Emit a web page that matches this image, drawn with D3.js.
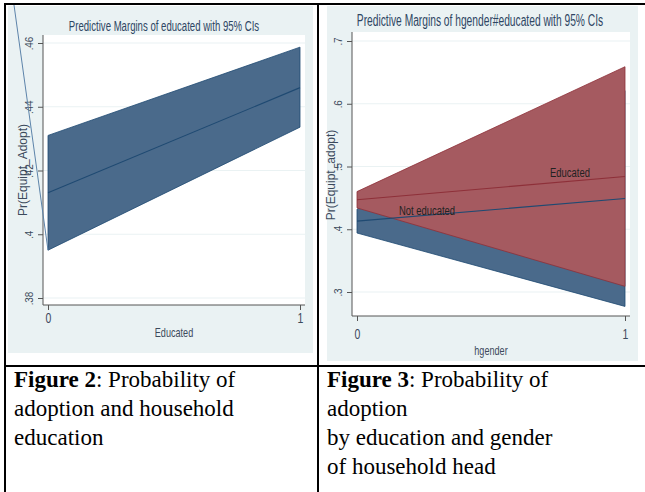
<!DOCTYPE html>
<html>
<head>
<meta charset="utf-8">
<script src="https://cdn.jsdelivr.net/npm/d3@7"></script>
<style>
  body { margin: 0; background: #fff; }
  svg { display: block; }
</style>
</head>
<body>
<div id="chart"></div>
<script>
// Figure 2: margins by education (x = educated 0/1)
const eduLevels = [0, 1];
const fig2Margin = [0.413, 0.446];
const fig2Lower = [0.395, 0.4336];
const fig2Upper = [0.431, 0.4587];
const fig2YTicks = [0.38, 0.40, 0.42, 0.44, 0.46];
const fig2YLabels = ['.38', '.4', '.42', '.44', '.46'];

// Figure 3: margins by hgender for each education group
const genderLevels = [0, 1];
const groups = ['Not educated', 'Educated'];
const notEduMargin = [0.413, 0.449];
const notEduLower = [0.394, 0.277];
const notEduUpper = [0.432, 0.621];
const eduMargin = [0.447, 0.484];
const eduLower = [0.434, 0.309];
const eduUpper = [0.460, 0.659];
const fig3YTicks = [0.3, 0.4, 0.5, 0.6, 0.7];
const fig3YLabels = ['.3', '.4', '.5', '.6', '.7'];

const captions = [
  { bold: 'Figure 2', lines: [': Probability of', 'adoption and household', 'education'] },
  { bold: 'Figure 3', lines: [': Probability of', 'adoption', 'by education and gender', 'of household head'] }
];

const W = 645, H = 492;
const stataFont = '"Liberation Sans", Arial, sans-serif';
const squeeze = 0.75; // stata fonts are condensed
const bg = '#eaf2f3';
const navyFill = '#4a6a8b', navyLine = '#1f4a72';
const redFill = '#a55a60', redLine = '#8e3039';
const textCol = '#3c4a5c';

const svg = d3.select('#chart').append('svg')
  .attr('width', W).attr('height', H);

// condensed text helper
function sText(g, x, y, str, size, fill, sx) {
  return g.append('text')
    .attr('transform', `translate(${x},${y}) scale(${sx || squeeze},1)`)
    .attr('text-anchor', 'middle')
    .attr('font-family', stataFont).attr('font-size', size).attr('fill', fill)
    .text(str);
}

// draws one Stata-like panel, returns scales
function panel(opt) {
  const g = svg.append('g');
  g.append('rect')
    .attr('x', opt.bg[0]).attr('y', opt.bg[1])
    .attr('width', opt.bg[2]).attr('height', opt.bg[3])
    .attr('fill', bg);
  g.append('rect')
    .attr('x', opt.plot[0]).attr('y', opt.plot[1])
    .attr('width', opt.plot[2] - opt.plot[0]).attr('height', opt.plot[3] - opt.plot[1])
    .attr('fill', '#fff');

  const x = d3.scaleLinear().domain([0, 1]).range(opt.xr);
  const y = d3.scaleLinear().domain(opt.yd).range(opt.yr);

  // grid
  g.append('g').selectAll('line').data(opt.yTicks).enter().append('line')
    .attr('x1', opt.plot[0]).attr('x2', opt.plot[2])
    .attr('y1', d => y(d)).attr('y2', d => y(d))
    .attr('stroke', bg).attr('stroke-width', 1.2);

  // y axis
  const yAxis = g.append('g')
    .attr('transform', `translate(${opt.plot[0]},0)`)
    .call(d3.axisLeft(y).tickValues(opt.yTicks).tickFormat((d, i) => opt.yLabels[i]).tickSize(5).tickSizeOuter(0));
  yAxis.select('.domain').attr('d', `M0,${opt.plot[1]}V${opt.plot[3]}`).attr('stroke', '#555');
  yAxis.selectAll('.tick line').attr('stroke', '#555');
  yAxis.selectAll('.tick text')
    .attr('x', 0).attr('dy', 0)
    .attr('transform', `translate(-10,0) rotate(-90) scale(0.9,1)`)
    .attr('text-anchor', 'middle')
    .attr('font-family', stataFont).attr('font-size', 11).attr('fill', textCol);

  // x axis
  const xAxis = g.append('g')
    .attr('transform', `translate(0,${opt.plot[3]})`)
    .call(d3.axisBottom(x).tickValues([0, 1]).tickFormat(d3.format('d')).tickSize(5).tickSizeOuter(0));
  xAxis.select('.domain').attr('d', `M${opt.plot[0]},0H${opt.plot[2]}`).attr('stroke', '#555');
  xAxis.selectAll('.tick line').attr('stroke', '#555');
  xAxis.selectAll('.tick text')
    .attr('y', opt.xLabelY)
    .attr('transform', `scale(${squeeze},1)`)
    .attr('font-family', stataFont).attr('font-size', 14).attr('fill', textCol);

  sText(g, opt.title[0], opt.title[1], opt.titleText, opt.titleSize, '#2e4663', 0.64);
  g.append('text')
    .attr('transform', `translate(${opt.ytitle[0]},${opt.ytitle[1]}) rotate(-90)`)
    .attr('text-anchor', 'middle')
    .attr('font-family', stataFont).attr('font-size', 12).attr('fill', textCol)
    .text(opt.ytitleText);
  sText(g, opt.xtitle[0], opt.xtitle[1], opt.xtitleText, 13, textCol, 0.7);
  return { g, x, y };
}

function band(g, x, y, xs, lo, hi, fill, stroke) {
  const rows = xs.map((v, i) => ({ x: v, lo: lo[i], hi: hi[i] }));
  g.append('path').datum(rows)
    .attr('d', d3.area().x(d => x(d.x)).y0(d => y(d.lo)).y1(d => y(d.hi)))
    .attr('fill', fill).attr('stroke', stroke).attr('stroke-width', 0.8);
}
function line(g, x, y, xs, vals, stroke) {
  const rows = xs.map((v, i) => ({ x: v, v: vals[i] }));
  g.append('path').datum(rows)
    .attr('d', d3.line().x(d => x(d.x)).y(d => y(d.v)))
    .attr('fill', 'none').attr('stroke', stroke).attr('stroke-width', 1.1);
}

// ---- Figure 2 ----
const p2 = panel({
  bg: [8, 6, 305, 347], plot: [43, 35, 305, 305],
  xr: [48, 300], yd: [0.38, 0.46], yr: [298, 43],
  yTicks: fig2YTicks, yLabels: fig2YLabels, xLabelY: 8,
  title: [164, 31], titleSize: 15, titleText: 'Predictive Margins of educated with 95%  CIs',
  ytitle: [27, 170], ytitleText: 'Pr(Equipt_Adopt)',
  xtitle: [174, 337], xtitleText: 'Educated'
});
band(p2.g, p2.x, p2.y, eduLevels, fig2Lower, fig2Upper, navyFill, navyLine);
line(p2.g, p2.x, p2.y, eduLevels, fig2Margin, navyLine);
// stray line in the source image running into the band corner
p2.g.append('line')
  .attr('x1', 14).attr('y1', 5)
  .attr('x2', p2.x(0)).attr('y2', p2.y(fig2Lower[0]))
  .attr('stroke', '#5d84aa').attr('stroke-width', 1);

// ---- Figure 3 ----
const p3 = panel({
  bg: [327, 6, 311, 355], plot: [352, 32, 630, 316],
  xr: [357, 625], yd: [0.3, 0.7], yr: [292, 41],
  yTicks: fig3YTicks, yLabels: fig3YLabels, xLabelY: 13,
  title: [480, 26], titleSize: 16, titleText: 'Predictive Margins of hgender#educated with 95% CIs',
  ytitle: [335, 175], ytitleText: 'Pr(Equipt_adopt)',
  xtitle: [491, 355], xtitleText: 'hgender'
});
band(p3.g, p3.x, p3.y, genderLevels, notEduLower, notEduUpper, navyFill, navyLine);
band(p3.g, p3.x, p3.y, genderLevels, eduLower, eduUpper, redFill, redLine);
line(p3.g, p3.x, p3.y, genderLevels, notEduMargin, navyLine);
line(p3.g, p3.x, p3.y, genderLevels, eduMargin, redLine);
sText(p3.g, 427, 215, groups[0], 13.5, '#222', 0.7);
sText(p3.g, 570, 177, groups[1], 13.5, '#222', 0.7);

// ---- table rules ----
const rules = svg.append('g').attr('stroke', '#000').attr('stroke-width', 2);
rules.append('line').attr('x1', 4).attr('x2', W).attr('y1', 4).attr('y2', 4);
rules.append('line').attr('x1', 5).attr('x2', 5).attr('y1', 3).attr('y2', H);
rules.append('line').attr('x1', 318).attr('x2', 318).attr('y1', 3).attr('y2', H);
rules.append('line').attr('x1', 4).attr('x2', W).attr('y1', 366).attr('y2', 366);

// ---- captions ----
const capX = [14, 327];
captions.forEach((c, ci) => {
  const t = svg.append('text')
    .attr('font-family', '"Liberation Serif", "Times New Roman", serif')
    .attr('font-size', 23).attr('fill', '#000');
  c.lines.forEach((ln, li) => {
    const ts = t.append('tspan').attr('x', capX[ci]).attr('y', 387 + li * 29);
    if (li === 0) {
      ts.append('tspan').attr('font-weight', 'bold').text(c.bold);
      ts.append('tspan').text(ln);
    } else {
      ts.text(ln);
    }
  });
});
</script>
</body>
</html>
